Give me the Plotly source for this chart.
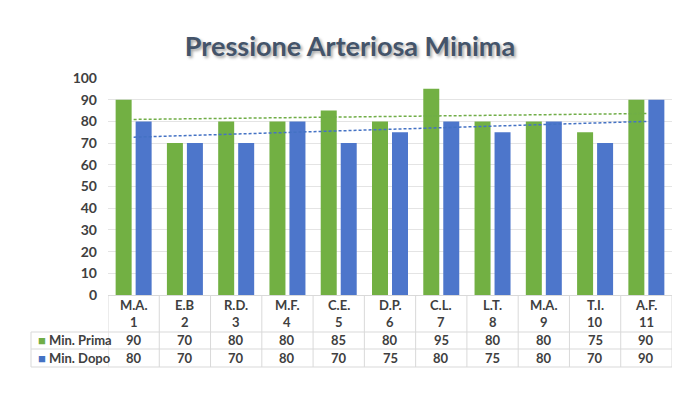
import numpy as np
import plotly.graph_objects as go

# ---- data ----
names = ["M.A.", "E.B", "R.D.", "M.F.", "C.E.", "D.P.", "C.L.", "L.T.", "M.A.", "T.I.", "A.F."]
nums = [1, 2, 3, 4, 5, 6, 7, 8, 9, 10, 11]
min_prima = [90, 70, 80, 80, 85, 80, 95, 80, 80, 75, 90]
min_dopo = [80, 70, 70, 80, 70, 75, 80, 75, 80, 70, 90]
series_names = ["Min. Prima", "Min. Dopo"]
y_ticks = [0, 10, 20, 30, 40, 50, 60, 70, 80, 90, 100]

GREEN = "#70AD47"
BLUE = "#4472C4"
TXT = "#404040"
GRID = "#E4E4E4"
LINE = "#D9D9D9"
FONT = "Lato"

# page body has an 8px default margin; compensate in figure margins
OFF = 8
ML, MT = 108 - OFF, 78 - OFF
MR = 700 - 672 + OFF
MB = 394 - 295 + OFF

fig = go.Figure()
fig.add_bar(x=nums, y=min_prima, name=series_names[0], marker=dict(color="#72B043", line=dict(width=0)))
fig.add_bar(x=nums, y=min_dopo, name=series_names[1], marker=dict(color="#4D76CB", line=dict(width=0)))

# linear trendlines computed from the data
for vals, col in ((min_prima, GREEN), (min_dopo, BLUE)):
    k, b = np.polyfit(nums, vals, 1)
    xs = [nums[0], nums[-1]]
    fig.add_scatter(x=xs, y=[k * xs[0] + b, k * xs[1] + b], mode="lines",
                    line=dict(color=col, width=1.5, dash="3px,2px"),
                    showlegend=False, hoverinfo="skip")

annotations = []
shapes = []
row_off = [-10, -27, -45, -63]
tfont = dict(family=FONT, size=13, color=TXT, weight="bold")
for i, x in enumerate(nums):
    for off, txt in zip(row_off, [names[i], str(nums[i]), str(min_prima[i]), str(min_dopo[i])]):
        annotations.append(dict(x=x, xref="x", y=0, yref="paper", yanchor="middle", yshift=off,
                                text=txt, showarrow=False, font=tfont))

plot_w = 700 - ML - MR
left_paper = (31 - 108) / plot_w
for off, name, col in ((row_off[2], series_names[0], GREEN), (row_off[3], series_names[1], BLUE)):
    annotations.append(dict(x=(36 - 108) / plot_w, xref="paper", xanchor="left", y=0, yref="paper",
                            yanchor="middle", yshift=off, showarrow=False,
                            text=f"<span style='color:{col}'>■</span> {name}", font=tfont))

for yo in (-37, -54, -72):
    shapes.append(dict(type="line", xref="paper", x0=left_paper, x1=1, yref="paper",
                       ysizemode="pixel", yanchor=0, y0=yo, y1=yo, line=dict(color=LINE, width=1)))
for k in range(len(nums) + 1):
    xb = nums[0] - 0.5 + k
    shapes.append(dict(type="line", xref="x", x0=xb, x1=xb, yref="paper",
                       ysizemode="pixel", yanchor=0, y0=0, y1=-72, line=dict(color=LINE, width=1)))
shapes.append(dict(type="line", xref="paper", x0=left_paper, x1=left_paper, yref="paper",
                   ysizemode="pixel", yanchor=0, y0=-37, y1=-72, line=dict(color=LINE, width=1)))

fig.update_layout(
    width=700, height=394,
    margin=dict(l=ML, r=MR, t=MT, b=MB),
    paper_bgcolor="white", plot_bgcolor="white",
    barmode="group", bargap=0.22, bargroupgap=0.2,
    showlegend=False,
    title=dict(text="Pressione Arteriosa Minima", x=(350 - OFF) / 700, xanchor="center",
               y=1 - (47 - OFF) / 394, yanchor="middle",
               font=dict(family=FONT, size=27, color="#44546A", weight="bold",
                         shadow="2px 2px 3px rgba(0,0,0,0.35)")),
    xaxis=dict(range=[0.5, 11.5], showticklabels=False, showgrid=False, zeroline=False,
               showline=True, linecolor=LINE, linewidth=1, automargin=False),
    yaxis=dict(range=[0, 100], tickvals=y_ticks, showgrid=True, gridcolor=GRID, gridwidth=1,
               zeroline=False, showline=False, ticklabelstandoff=10, automargin=False,
               tickfont=dict(family=FONT, size=14, color=TXT, weight="bold")),
    annotations=annotations,
    shapes=shapes,
)

fig.write_html("out.html")
